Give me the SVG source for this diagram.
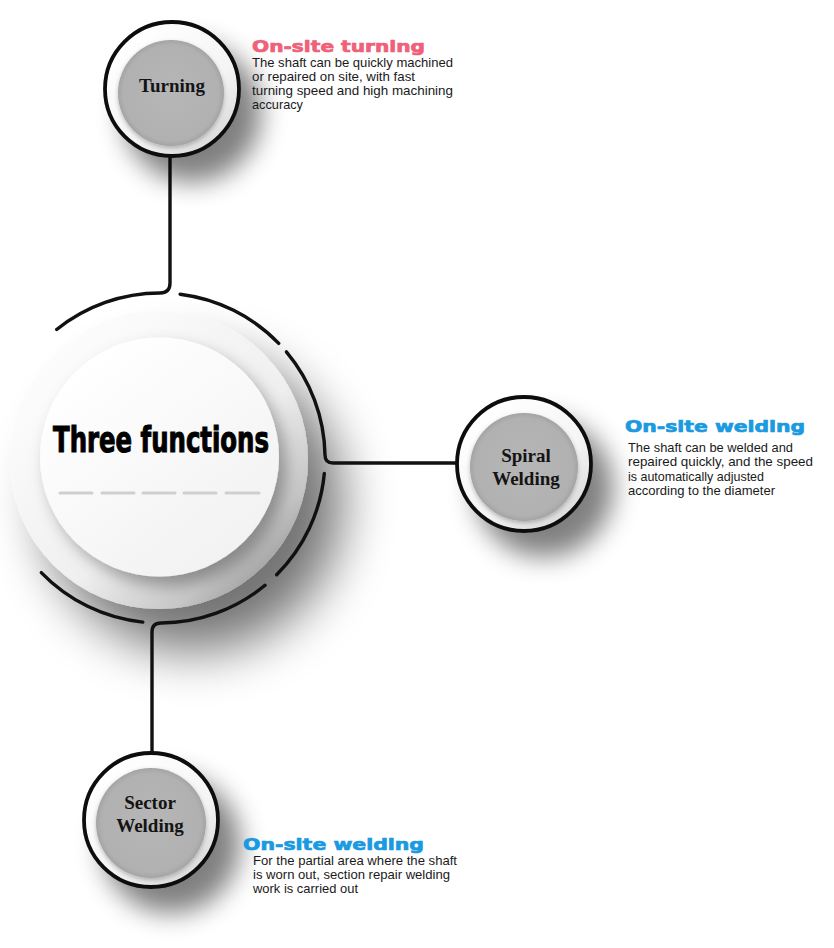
<svg xmlns="http://www.w3.org/2000/svg" width="834" height="948" viewBox="0 0 834 948">
<defs>
  <style>
    .lbl{font-family:"Liberation Serif","Times New Roman",serif;font-weight:bold;font-size:19px;fill:#141414;text-anchor:middle}
    .ttl{font-family:"DejaVu Sans","Liberation Sans",sans-serif;font-weight:bold;font-size:16px;stroke-width:0.7}
    .pink{fill:#ef6079;stroke:#ef6079}
    .blue{fill:#1a9ae0;stroke:#1a9ae0}
    .body{font-family:"Liberation Sans",Arial,sans-serif;font-size:12.4px;fill:#1a1a1a}
    .conn{fill:none;stroke:#111;stroke-width:3.4;stroke-linecap:round;stroke-linejoin:round}
    .ring{stroke:#0c0c0c;stroke-width:3.8}
  </style>
  <filter id="bigShadow" x="-40%" y="-40%" width="190%" height="190%">
    <feGaussianBlur in="SourceAlpha" stdDeviation="26"/>
    <feOffset dx="34" dy="42" result="b"/>
    <feComponentTransfer><feFuncA type="linear" slope="0.55"/></feComponentTransfer>
    <feMerge><feMergeNode/><feMergeNode in="SourceGraphic"/></feMerge>
  </filter>
  <filter id="innerShadow" x="-30%" y="-30%" width="170%" height="170%">
    <feDropShadow dx="7" dy="9" stdDeviation="8" flood-color="#000" flood-opacity="0.32"/>
  </filter>
  <filter id="smallShadow" x="-50%" y="-50%" width="220%" height="220%">
    <feGaussianBlur in="SourceAlpha" stdDeviation="13"/>
    <feOffset dx="20" dy="24"/>
    <feComponentTransfer><feFuncA type="linear" slope="0.5"/></feComponentTransfer>
    <feMerge><feMergeNode/><feMergeNode in="SourceGraphic"/></feMerge>
  </filter>
  <filter id="grayInset" x="-20%" y="-20%" width="140%" height="140%">
    <feDropShadow dx="0" dy="2" stdDeviation="2" flood-color="#000" flood-opacity="0.25"/>
  </filter>
  <linearGradient id="outerGrad" x1="0.15" y1="0.1" x2="0.95" y2="0.95">
    <stop offset="0" stop-color="#fdfdfd"/>
    <stop offset="0.55" stop-color="#efefef"/>
    <stop offset="0.8" stop-color="#c6c6c6"/>
    <stop offset="1" stop-color="#7e7e7e"/>
  </linearGradient>
  <linearGradient id="innerGrad" x1="0.2" y1="0.1" x2="0.85" y2="0.95">
    <stop offset="0" stop-color="#ffffff"/>
    <stop offset="1" stop-color="#f1f1f1"/>
  </linearGradient>
  <linearGradient id="bandGrad" x1="0.2" y1="0.1" x2="0.85" y2="0.95">
    <stop offset="0" stop-color="#ffffff"/>
    <stop offset="0.6" stop-color="#f4f4f4"/>
    <stop offset="1" stop-color="#d8d8d8"/>
  </linearGradient>
  <radialGradient id="grayGrad" cx="0.5" cy="0.5" r="0.5">
    <stop offset="0" stop-color="#b6b6b6"/>
    <stop offset="0.9" stop-color="#b1b1b1"/>
    <stop offset="1" stop-color="#a4a4a4"/>
  </radialGradient>
</defs>
<rect width="834" height="948" fill="#ffffff"/>

<g id="center-node">
  <circle cx="159" cy="460" r="149" fill="url(#outerGrad)" filter="url(#bigShadow)"/>
  <circle cx="159.5" cy="457" r="119.5" fill="url(#innerGrad)" filter="url(#innerShadow)"/>
  <text x="161" y="452" font-family="'Liberation Sans Narrow','DejaVu Sans Condensed','Liberation Sans',sans-serif" font-weight="bold" font-size="35" fill="#000" stroke="#000" stroke-width="1" text-anchor="middle" textLength="216" lengthAdjust="spacingAndGlyphs">Three functions</text>
  <g stroke="#cfcfcf" stroke-width="3" stroke-linecap="round">
    <line x1="60" y1="493" x2="92" y2="493"/>
    <line x1="102" y1="493" x2="134" y2="493"/>
    <line x1="143" y1="493" x2="175" y2="493"/>
    <line x1="184" y1="493" x2="216" y2="493"/>
    <line x1="226" y1="493" x2="259" y2="493"/>
  </g>
</g>

<g id="connectors">
  <path class="conn" d="M170,156 V283 Q170,293 160,293 A165,165 0 0 0 56.7,329.5"/>
  <path class="conn" d="M180.1,294.2 A165,165 0 0 1 278.7,343.4"/>
  <path class="conn" d="M286.4,351.9 A165,165 0 0 1 325,455 Q325,463 333,463 H457"/>
  <path class="conn" d="M324.3,473.5 A165,165 0 0 1 276.7,574.7"/>
  <path class="conn" d="M265,585.3 A165,165 0 0 1 161,623 Q152,623 152,632 V753"/>
  <path class="conn" d="M142.8,622.1 A165,165 0 0 1 41.3,572.6"/>
</g>

<g id="node-turning">
  <circle class="ring" cx="172" cy="89" r="67" fill="url(#bandGrad)" filter="url(#smallShadow)"/>
  <circle cx="171" cy="93" r="53" fill="url(#grayGrad)" filter="url(#grayInset)"/>
  <text class="lbl" x="172" y="92">Turning</text>
</g>

<g id="node-spiral">
  <circle class="ring" cx="524" cy="464" r="67" fill="url(#bandGrad)" filter="url(#smallShadow)"/>
  <circle cx="524" cy="467" r="54" fill="url(#grayGrad)" filter="url(#grayInset)"/>
  <text class="lbl" x="526" y="462">Spiral</text>
  <text class="lbl" x="526" y="485">Welding</text>
</g>

<g id="node-sector">
  <circle class="ring" cx="151" cy="820" r="67" fill="url(#bandGrad)" filter="url(#smallShadow)"/>
  <circle cx="151" cy="823" r="55" fill="url(#grayGrad)" filter="url(#grayInset)"/>
  <text class="lbl" x="150" y="809">Sector</text>
  <text class="lbl" x="150" y="832">Welding</text>
</g>

<g id="text-turning">
  <text class="ttl pink" x="252" y="52" textLength="173" lengthAdjust="spacingAndGlyphs">On-site turning</text>
  <text class="body" x="252" y="67" textLength="201" lengthAdjust="spacingAndGlyphs">The shaft can be quickly machined</text>
  <text class="body" x="252" y="81" textLength="163" lengthAdjust="spacingAndGlyphs">or repaired on site, with fast</text>
  <text class="body" x="252" y="95" textLength="201" lengthAdjust="spacingAndGlyphs">turning speed and high machining</text>
  <text class="body" x="252" y="109" textLength="51" lengthAdjust="spacingAndGlyphs">accuracy</text>
</g>

<g id="text-spiral">
  <text class="ttl blue" x="625" y="432" textLength="180" lengthAdjust="spacingAndGlyphs">On-site welding</text>
  <text class="body" x="628" y="452" textLength="165" lengthAdjust="spacingAndGlyphs">The shaft can be welded and</text>
  <text class="body" x="628" y="466.3" textLength="185" lengthAdjust="spacingAndGlyphs">repaired quickly, and the speed</text>
  <text class="body" x="628" y="480.6" textLength="136" lengthAdjust="spacingAndGlyphs">is automatically adjusted</text>
  <text class="body" x="628" y="494.9" textLength="147" lengthAdjust="spacingAndGlyphs">according to the diameter</text>
</g>

<g id="text-sector">
  <text class="ttl blue" x="243" y="850" textLength="181" lengthAdjust="spacingAndGlyphs">On-site welding</text>
  <text class="body" x="253" y="865.2" textLength="204" lengthAdjust="spacingAndGlyphs">For the partial area where the shaft</text>
  <text class="body" x="253" y="879.2" textLength="197" lengthAdjust="spacingAndGlyphs">is worn out, section repair welding</text>
  <text class="body" x="253" y="893.2" textLength="105" lengthAdjust="spacingAndGlyphs">work is carried out</text>
</g>
</svg>
